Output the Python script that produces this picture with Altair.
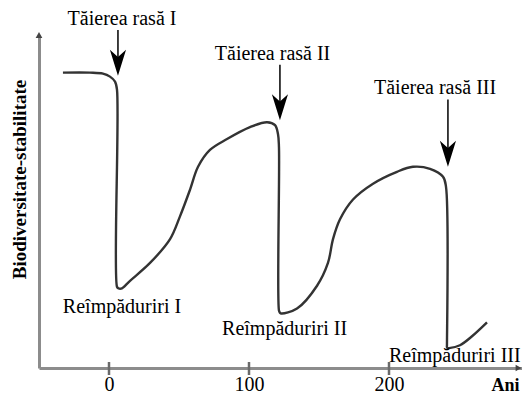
import altair as alt
import pandas as pd

# ---- data ----
curve_x = [-32.9, -13.6, -4.3, 0.7, 4.3, 5.7, 5.7, 6.6, 8.6, 15.0, 29.3, 43.6, 50.7, 57.9, 63.6, 72.1, 84.3,
           100.7, 112.9, 118.6, 120.7, 121.4, 121.4, 122.0, 122.9, 134.3, 148.6, 156.4, 160.0, 165.0, 174.3,
           188.6, 205.7, 217.1, 229.3, 238.6, 240.7, 241.4, 241.4, 242.0, 242.9, 250.7, 259.3, 270.0]
curve_y = [298, 298, 297, 294, 289, 281, 82, 80.5, 80, 88, 106, 130, 153, 180, 203, 220, 231,
           243, 248, 245, 236, 223, 58, 56, 55, 60, 83, 106, 130, 150, 170,
           186, 198, 203, 201, 193, 183, 23, 21, 20, 20, 23, 32, 46]

x_ticks = [0, 100, 200]

cut_labels = ["Tăierea rasă I", "Tăierea rasă II", "Tăierea rasă III"]
cut_label_x = [9.3, 116.8, 232.9]
cut_label_y = [346, 311, 276]
arrow_x = [6.4, 122.1, 242.1]
arrow_top = [341, 306, 271]
arrow_tip = [295, 250, 203]

refor_labels = ["Reîmpăduriri I", "Reîmpăduriri II", "Reîmpăduriri III"]
refor_x = [9.3, 125.4, 247.0]
refor_y = [56, 33, 6]

X_DOMAIN = [-50, 295]
Y_DOMAIN = [0, 336]
W, H = 483, 333
FONT = "Liberation Serif"

curve = pd.DataFrame({"x": curve_x, "y": curve_y, "o": list(range(len(curve_x)))})
cuts = pd.DataFrame({"label": cut_labels, "lx": cut_label_x, "ly": cut_label_y,
                     "ax": arrow_x, "atop": arrow_top, "atip": arrow_tip,
                     "ashaft": [t + 14 for t in arrow_tip]})
refor = pd.DataFrame({"label": refor_labels, "x": refor_x, "y": refor_y})
ticks = pd.DataFrame({"x": x_ticks})

xs = alt.Scale(domain=X_DOMAIN, nice=False, zero=False)
ys = alt.Scale(domain=Y_DOMAIN, nice=False, zero=False)

xaxis = alt.Axis(values=x_ticks, grid=False, ticks=False, tickSize=0, domainColor="#8c8c8c", domainWidth=3,
                 labelFont=FONT, labelFontSize=20, labelColor="black", labelPadding=6,
                 title="Ani", titleFont=FONT, titleFontSize=18, titleFontWeight="bold", titleColor="black",
                 titleX=466, titleY=22, titleBaseline="alphabetic", titleAlign="center")
yaxis = alt.Axis(grid=False, ticks=False, labels=False, domainColor="#8c8c8c", domainWidth=3,
                 title="Biodiversitate-stabilitate", titleFont=FONT, titleFontSize=19, titleFontWeight="bold",
                 titleColor="black", titleAngle=270, titleX=-13.5, titleY=144, titleAlign="center",
                 titleBaseline="alphabetic")

line = alt.Chart(curve).mark_line(interpolate="catmull-rom", color="#333333", strokeWidth=2.4).encode(
    x=alt.X("x:Q", scale=xs, axis=xaxis),
    y=alt.Y("y:Q", scale=ys, axis=yaxis),
    order="o:Q",
)

tick_marks = alt.Chart(ticks).mark_rule(color="#6a6a6a", strokeWidth=2.5).encode(
    x=alt.X("x:Q", scale=xs), y=alt.value(H - 6), y2=alt.value(H + 7)
)

shafts = alt.Chart(cuts).mark_rule(color="black", strokeWidth=1.5).encode(
    x=alt.X("ax:Q", scale=xs), y=alt.Y("atop:Q", scale=ys), y2="ashaft:Q"
)

head_path = "M0,0 L-0.31,-1 L0,-0.72 L0.31,-1 Z"
heads = alt.Chart(cuts).mark_point(shape=head_path, size=2704, filled=True, color="black", opacity=1,
                                    strokeWidth=0).encode(
    x=alt.X("ax:Q", scale=xs), y=alt.Y("atip:Q", scale=ys)
)

cut_text = alt.Chart(cuts).mark_text(font=FONT, fontSize=20, color="black", align="center",
                                      baseline="alphabetic").encode(
    x=alt.X("lx:Q", scale=xs), y=alt.Y("ly:Q", scale=ys), text="label:N"
)
refor_text = alt.Chart(refor).mark_text(font=FONT, fontSize=20, color="black", align="center",
                                         baseline="alphabetic").encode(
    x=alt.X("x:Q", scale=xs), y=alt.Y("y:Q", scale=ys), text="label:N"
)

ends = pd.DataFrame({"x": [X_DOMAIN[0], X_DOMAIN[1] - 2.5], "y": [Y_DOMAIN[1], Y_DOMAIN[0]],
                     "s": ["triangle-up", "triangle-right"]})
axis_arrows = alt.Chart(ends).mark_point(filled=True, color="#444444", size=45, opacity=1).encode(
    x=alt.X("x:Q", scale=xs), y=alt.Y("y:Q", scale=ys),
    shape=alt.Shape("s:N", scale=None, legend=None),
)

chart = alt.layer(line, tick_marks, shafts, heads, cut_text, refor_text, axis_arrows).properties(
    width=W, height=H,
    autosize=alt.AutoSizeParams(type="none"),
    padding={"left": 31, "top": 27, "right": 0, "bottom": 27},
).configure_view(stroke=None)

chart.save("out.html", embed_options={"renderer": "svg", "actions": False})
